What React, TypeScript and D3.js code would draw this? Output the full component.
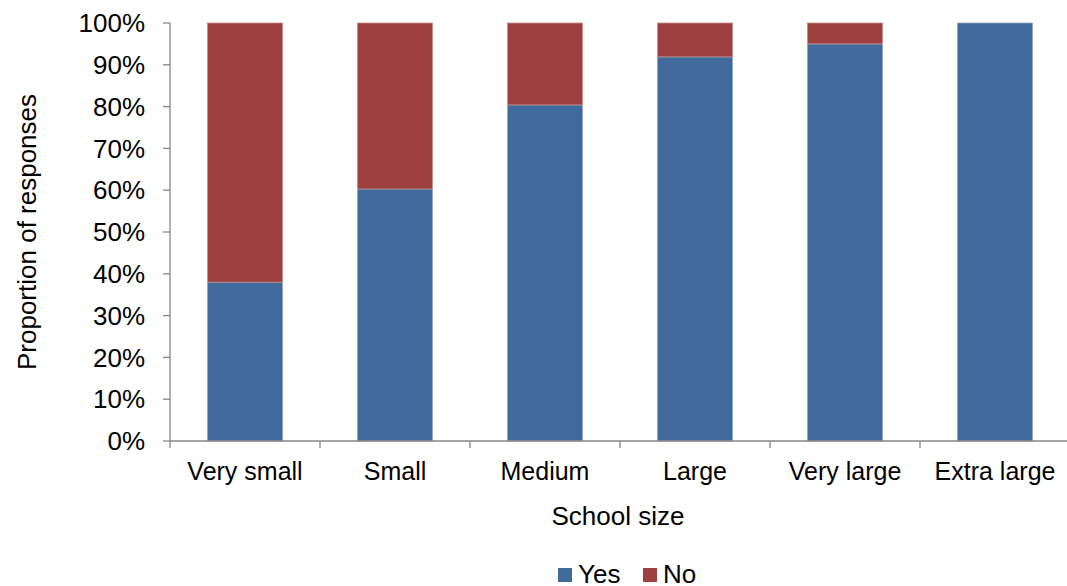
import React from "react";
import * as d3 from "d3";

const categories = ["Very small", "Small", "Medium", "Large", "Very large", "Extra large"];
const yesValues = [38, 60.3, 80.4, 91.9, 95, 100];
const noValues = [62, 39.7, 19.6, 8.1, 5, 0];
const yTicks = [0, 10, 20, 30, 40, 50, 60, 70, 80, 90, 100];
const seriesNames = ["Yes", "No"];
const seriesColors = ["#406A9B", "#9D403F"];

export default function App() {
  const W = 1067, H = 586;
  const left = 170, right = 1070, top = 23, bottom = 441;
  const x = d3.scaleBand<string>().domain(categories).range([left, right]).paddingInner(0.5).paddingOuter(0.25);
  const y = d3.scaleLinear().domain([0, 100]).range([bottom, top]);
  const font = "'Liberation Sans', Arial, sans-serif";
  const stackData = categories.map((c, i) => ({ cat: c, Yes: yesValues[i], No: noValues[i] }));
  const stack = d3.stack<any>().keys(seriesNames)(stackData);
  const step = x.step();
  const catTicks = d3.range(categories.length + 1).map((i) => left + i * step);
  return (
    <svg width={W} height={H} style={{ position: "absolute", left: 0, top: 0, background: "#fff" }}>
      {stack.map((s, si) =>
        s.map((d, i) =>
          d[1] - d[0] > 0 ? (
            <rect
              key={si + "-" + i}
              x={x(categories[i])}
              y={y(d[1])}
              width={x.bandwidth()}
              height={y(d[0]) - y(d[1])}
              fill={seriesColors[si]}
              stroke={si === 0 ? "#8FA6C6" : "#C48A89"}
              strokeWidth={0.8}
            />
          ) : null
        )
      )}
      {/* y axis */}
      <line x1={left} x2={left} y1={top} y2={bottom} stroke="#878787" strokeWidth={1.3} />
      {yTicks.map((t) => (
        <g key={t}>
          <line x1={left - 7} x2={left} y1={y(t)} y2={y(t)} stroke="#878787" strokeWidth={1.3} />
          <text x={145} y={y(t)} dy="0.35em" textAnchor="end" fontFamily={font} fontSize={26} fill="#000">
            {t}%
          </text>
        </g>
      ))}
      {/* x axis */}
      <line x1={left} x2={right} y1={bottom} y2={bottom} stroke="#878787" strokeWidth={1.3} />
      {catTicks.map((t, i) => (
        <line key={i} x1={t} x2={t} y1={bottom} y2={bottom + 7} stroke="#878787" strokeWidth={1.3} />
      ))}
      {categories.map((c) => (
        <text key={c} x={(x(c) as number) + x.bandwidth() / 2} y={480} textAnchor="middle" fontFamily={font} fontSize={25} fill="#000">
          {c}
        </text>
      ))}
      <text x={618} y={525} textAnchor="middle" fontFamily={font} fontSize={26} fill="#000">
        School size
      </text>
      <text transform={`translate(36,232) rotate(-90)`} textAnchor="middle" fontFamily={font} fontSize={26} fill="#000">
        Proportion of responses
      </text>
      {/* legend */}
      {seriesNames.map((n, i) => {
        const lx = 558 + i * 85;
        return (
          <g key={n}>
            <rect x={lx} y={568} width={14} height={14} fill={seriesColors[i]} />
            <text x={lx + 20} y={583} fontFamily={font} fontSize={26} fill="#000">
              {n}
            </text>
          </g>
        );
      })}
    </svg>
  );
}
